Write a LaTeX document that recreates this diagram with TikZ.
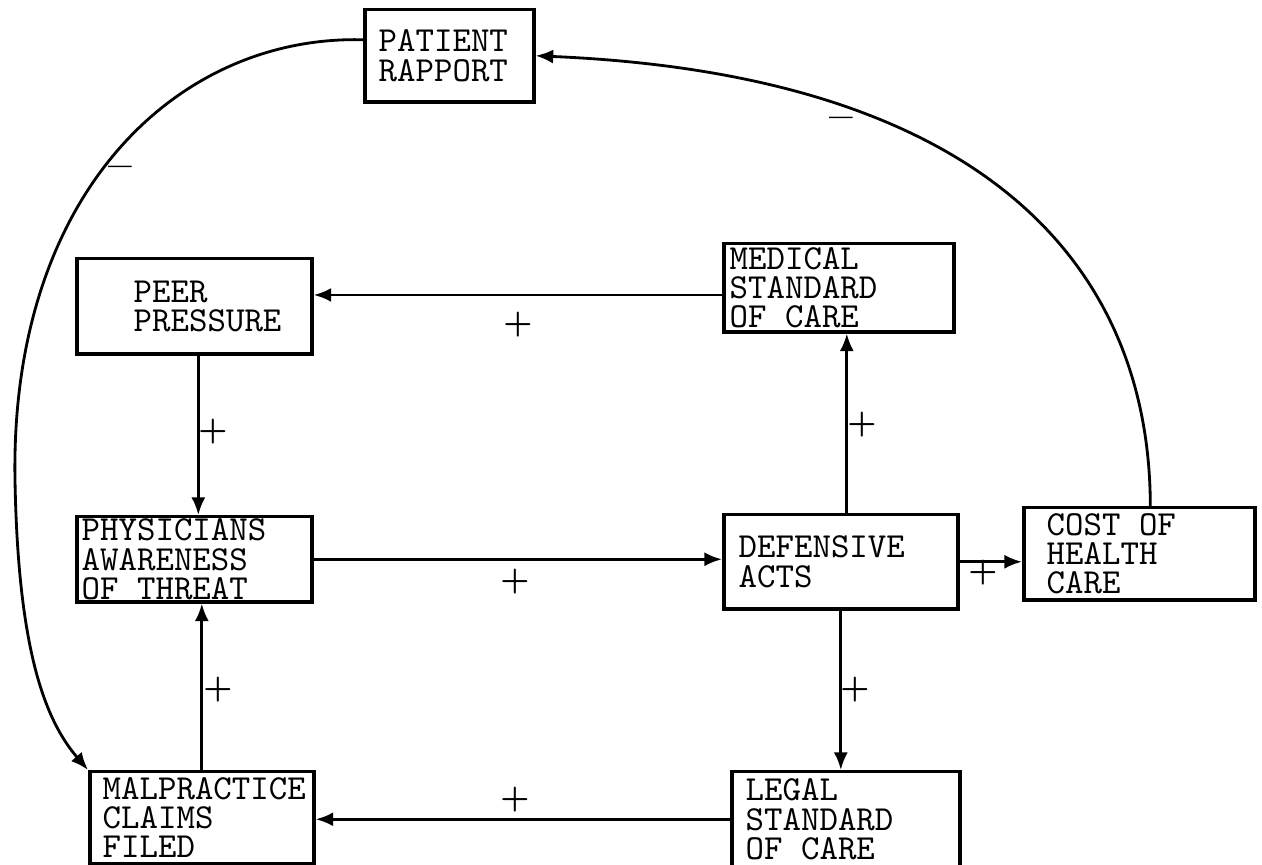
\documentclass[tikz,border=0pt]{standalone}
\usepackage{fontspec}
\usepackage{tikz}
\usetikzlibrary{arrows.meta}

\tikzset{
  blk/.style={draw, line width=1pt, inner sep=0pt, anchor=north west},
  boxtext/.style={anchor=west, align=left, inner sep=0pt,
    font=\ttfamily\addfontfeatures{FakeBold=1.5}\fontsize{10}{8.3}\selectfont},
  arr/.style={line width=0.8pt, -{Latex[length=5pt,width=4pt]}},
  lbl/.style={font=\bfseries\fontsize{9}{9}\selectfont, inner sep=0pt},
  neg/.style={font=\bfseries\fontsize{12}{12}\selectfont, inner sep=0pt}
}

\begin{document}
\begin{tikzpicture}[x=0.01cm, y=-0.01cm]
  \useasboundingbox (0,0) rectangle (1262,865);
  % riquadri
  \node[blk, minimum width=1.69cm, minimum height=0.92cm] (rapport) at (363,8) {};
  \node[blk, minimum width=2.35cm, minimum height=0.95cm] (peer) at (75,257) {};
  \node[blk, minimum width=2.30cm, minimum height=0.88cm] (medical) at (722,242) {};
  \node[blk, minimum width=2.35cm, minimum height=0.85cm] (physicians) at (75,515) {};
  \node[blk, minimum width=2.34cm, minimum height=0.94cm] (defensive) at (722,513) {};
  \node[blk, minimum width=2.31cm, minimum height=0.92cm] (cost) at (1022,506) {};
  \node[blk, minimum width=2.24cm, minimum height=0.92cm] (malpractice) at (88,770) {};
  \node[blk, minimum width=2.28cm, minimum height=0.95cm] (legal) at (730,770) {};
  % testi
  \node[boxtext] (rapport-t) at ([xshift=0.15cm]rapport.west) {PATIENT\\RAPPORT};
  \node[boxtext] (peer-t) at ([xshift=0.58cm]peer.west) {PEER\\PRESSURE};
  \node[boxtext] (medical-t) at ([xshift=0.07cm]medical.west) {MEDICAL\\STANDARD\\OF CARE};
  \node[boxtext] (physicians-t) at ([xshift=0.06cm]physicians.west) {PHYSICIANS\\AWARENESS\\OF THREAT};
  \node[boxtext] (defensive-t) at ([xshift=0.16cm]defensive.west) {DEFENSIVE\\ACTS};
  \node[boxtext] (cost-t) at ([xshift=0.24cm]cost.west) {COST OF\\HEALTH\\CARE};
  \node[boxtext] (malpractice-t) at ([xshift=0.14cm]malpractice.west) {MALPRACTICE\\CLAIMS\\FILED};
  \node[boxtext] (legal-t) at ([xshift=0.15cm]legal.west) {LEGAL\\STANDARD\\OF CARE};
  % frecce
  \draw[arr] (medical.west |- 0,295) -- (peer.east |- 0,295);
  \draw[arr] ([xshift=0.04cm]peer.south) -- ([xshift=0.04cm]peer.south |- physicians.north);
  \draw[arr] (physicians.east) -- (physicians.east -| defensive.west);
  \draw[arr] ([xshift=0.06cm]defensive.north) -- ([xshift=0.06cm]defensive.north |- medical.south);
  \draw[arr] (defensive.east) -- (defensive.east -| cost.west);
  \draw[arr] (defensive.south) -- (defensive.south |- legal.north);
  \draw[arr] (legal.west) -- (legal.west -| malpractice.east);
  \draw[arr] (malpractice.north) -- (malpractice.north |- physicians.south);
  \draw[arr] ([yshift=0.16cm]rapport.west) .. controls (180,35) and (10,190) .. (15,480)
    .. controls (18,650) and (45,720) .. (malpractice.north west);
  \draw[arr] ([xshift=0.11cm]cost.north) .. controls (1150,270) and (990,75) .. (rapport.east);
  % segni
  \node[lbl] (s1) at (518,325) {+};
  \node[lbl] (s2) at (213,432) {+};
  \node[lbl] (s3) at (862,425) {+};
  \node[lbl] (s4) at (515,582) {+};
  \node[lbl] (s5) at (983,573) {+};
  \node[lbl] (s6) at (855,690) {+};
  \node[lbl] (s7) at (218,690) {+};
  \node[lbl] (s8) at (515,800) {+};
  \node[neg] (m1) at (120,172) {--};
  \node[neg] (m2) at (841,123) {--};
\end{tikzpicture}
\end{document}
